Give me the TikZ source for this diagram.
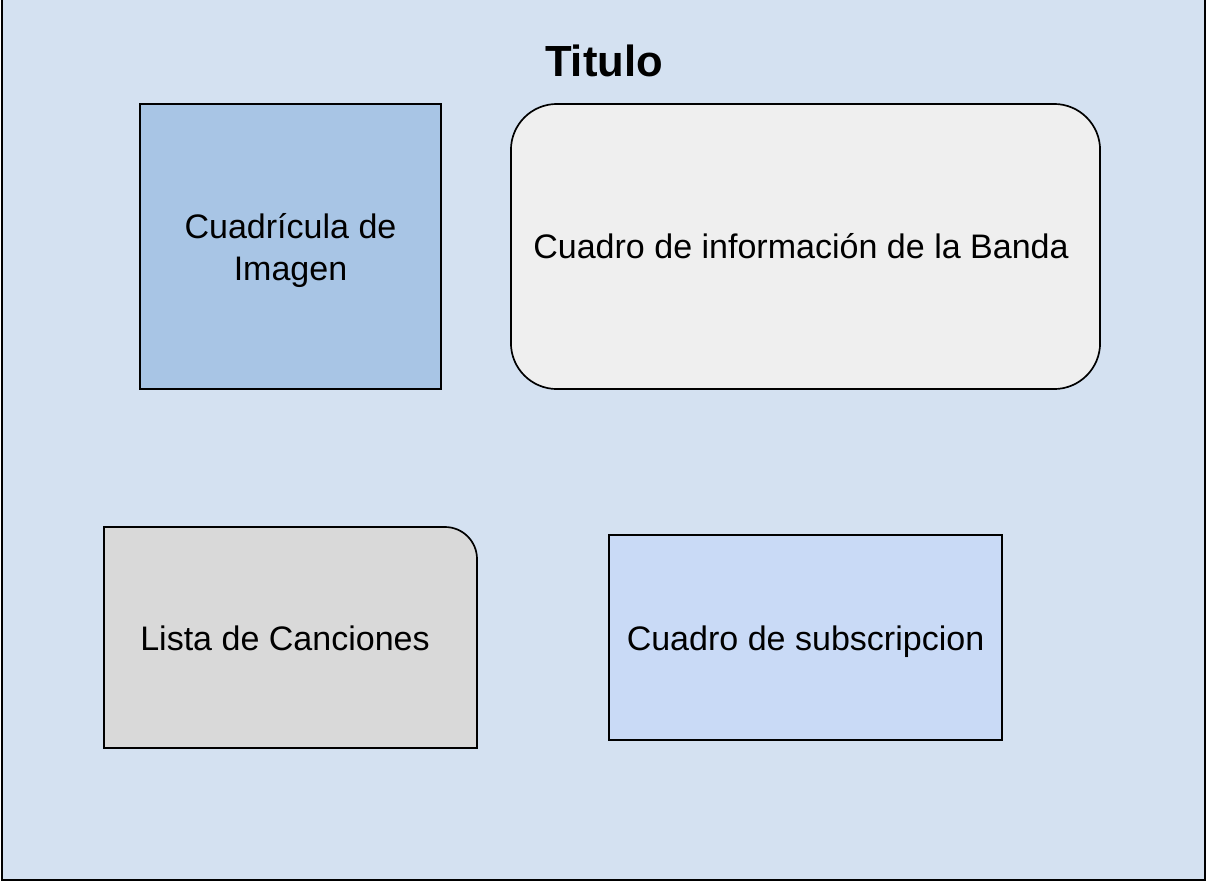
\documentclass[tikz,border=0pt]{standalone}
\usepackage{fontspec}
\setmainfont{Liberation Sans}
\definecolor{hintergrund}{HTML}{D4E1F1}
\definecolor{bildblau}{HTML}{A8C5E5}
\definecolor{infograu}{HTML}{EFEFEF}
\definecolor{listengrau}{HTML}{D9D9D9}
\definecolor{aboblau}{HTML}{C9DAF6}
\tikzset{
	kasten/.style={draw, line width=1.2pt, align=center, inner sep=0pt},
	beschriftung/.style={font=\fontsize{24.2pt}{29.9pt}\selectfont, align=center}
}
\begin{document}
\begin{tikzpicture}[x=0.025cm, y=-0.025cm]
		\useasboundingbox (0,0) rectangle (1208,882);
		
		% zeichne Rahmen
		\draw[fill=hintergrund, line width=1.6pt] (2,-10) rectangle (1205,880);
		\node[font=\fontsize{31pt}{37pt}\selectfont\bfseries] (titel) at (604,61) {Titulo};
		
		% zeichne obere Kaesten
		\node[kasten, fill=bildblau, minimum width=7.525cm, minimum height=7.125cm] (bild) at (290.5,246.5) {};
		\node[beschriftung] (bildtext) at (290.5,250.5) {Cuadrícula de\\Imagen};
		\node[kasten, fill=infograu, rounded corners=1.15cm, minimum width=14.725cm, minimum height=7.125cm] (info) at (805.5,246.5) {};
		\node[beschriftung] (infotext) at (801,246.5) {Cuadro de información de la Banda};
		
		% zeichne untere Kaesten
		\draw[fill=listengrau, line width=1.2pt] (104,748) -- (104,527) [rounded corners=0.8cm] -- (477,527) [sharp corners] -- (477,748) -- cycle;
		\node[beschriftung] (liste) at (285,638) {Lista de Canciones};
		\node[kasten, fill=aboblau, minimum width=9.825cm, minimum height=5.125cm] (abo) at (805.5,637.5) {};
		\node[beschriftung] (abotext) at (805.5,641.5) {Cuadro de subscripcion};
	\end{tikzpicture}
\end{document}
